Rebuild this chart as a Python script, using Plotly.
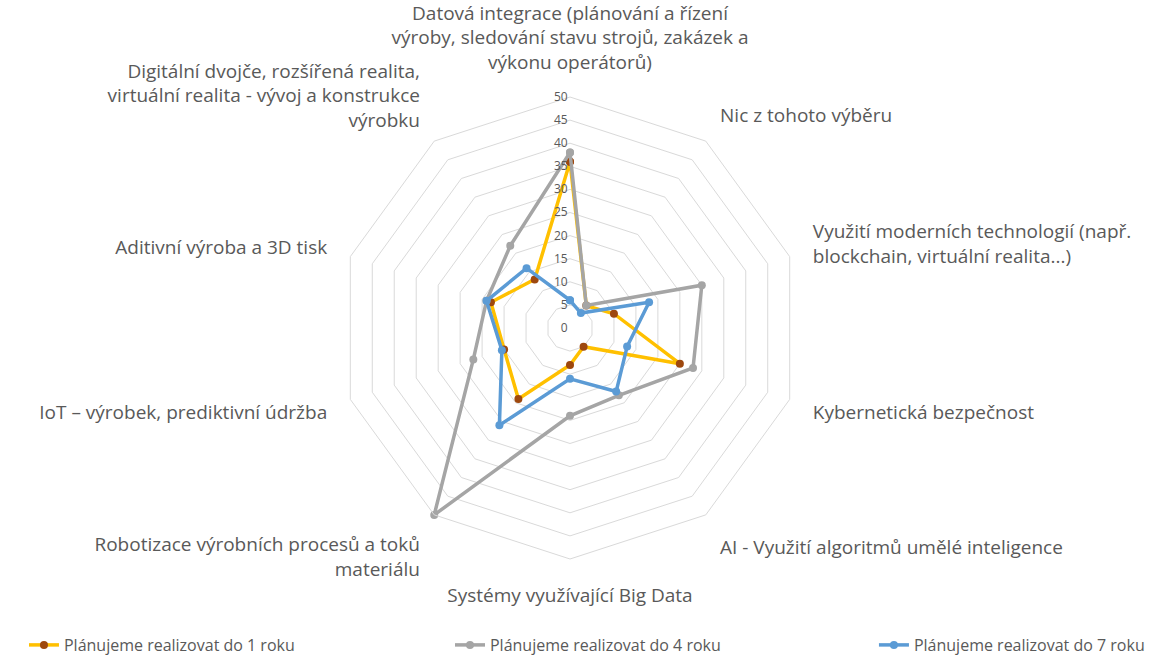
import plotly.graph_objects as go

#categories clockwise from the top, <br> where the original label wraps
categories = [
    'Datová integrace (plánování a řízení<br>výroby, sledování stavu strojů, zakázek a<br>výkonu operátorů)',
    'Nic z tohoto výběru',
    'Využití moderních technologií (např.<br>blockchain, virtuální realita...)',
    'Kybernetická bezpečnost',
    'AI - Využití algoritmů umělé inteligence',
    'Systémy využívající Big Data',
    'Robotizace výrobních procesů a toků<br>materiálu',
    'IoT – výrobek, prediktivní údržba',
    'Aditivní výroba a 3D tisk',
    'Digitální dvojče, rozšířená realita,<br>virtuální realita - vývoj a konstrukce<br>výrobku',
]

#values
do_1_roku = [36, 6, 10, 25, 5, 8, 19, 15, 18, 13]
do_4_roku = [38, 6, 30, 28, 18, 19, 50, 22, 19, 22]
do_7_roku = [6, 4, 18, 13, 17, 11, 26, 15.5, 19, 16]

series_names = ['Plánujeme realizovat do 1 roku', 'Plánujeme realizovat do 4 roku', 'Plánujeme realizovat do 7 roku']
radial_ticks = [0, 5, 10, 15, 20, 25, 30, 35, 40, 45, 50]

text_col = '#595959'
font_name = 'Open Sans'

fig = go.Figure()

#close the loop by repeating the first point
def closed(vals):
    return vals + vals[:1]

fig.add_trace(go.Scatterpolar(r=closed(do_1_roku), theta=closed(categories), name=series_names[0],
                              mode='lines+markers', line=dict(color='#FFC000', width=3.5),
                              marker=dict(color='#9E480E', size=8), legend='legend'))
fig.add_trace(go.Scatterpolar(r=closed(do_4_roku), theta=closed(categories), name=series_names[1],
                              mode='lines+markers', line=dict(color='#A5A5A5', width=3.5),
                              marker=dict(color='#A5A5A5', size=8), legend='legend2'))
fig.add_trace(go.Scatterpolar(r=closed(do_7_roku), theta=closed(categories), name=series_names[2],
                              mode='lines+markers', line=dict(color='#5B9BD5', width=3.5),
                              marker=dict(color='#5B9BD5', size=8), legend='legend3'))

cx, cy, rad = 570, 328, 231
W, H = 1158, 662

fig.update_layout(
    width=W, height=H,
    margin=dict(l=0, r=0, t=0, b=0, autoexpand=False),
    paper_bgcolor='white',
    showlegend=True,
    font=dict(family=font_name, color=text_col, size=13),
    polar=dict(
        domain=dict(x=[(cx - rad) / W, (cx + rad) / W], y=[(H - cy - rad) / H, (H - cy + rad) / H]),
        bgcolor='white',
        gridshape='linear',
        radialaxis=dict(range=[0, 50], tickvals=radial_ticks, angle=90, tickangle=90,
                        showline=False, ticks='', gridcolor='#D9D9D9', gridwidth=1,
                        ticksuffix='\u00a0\u00a0\u00a0',
                        tickfont=dict(size=12, color=text_col), side='counterclockwise'),
        angularaxis=dict(direction='clockwise', rotation=90, showgrid=False,
                         showline=True, linecolor='#D9D9D9', linewidth=1,
                         ticks='outside', ticklen=20, tickcolor='rgba(0,0,0,0)',
                         tickfont=dict(size=19, color=text_col)),
    ),
    legend=dict(x=0.0207, y=0.0, xanchor='left', yanchor='bottom', font=dict(size=16)),
    legend2=dict(x=0.3886, y=0.0, xanchor='left', yanchor='bottom', font=dict(size=16)),
    legend3=dict(x=0.7547, y=0.0, xanchor='left', yanchor='bottom', font=dict(size=16)),
)

#page body has a default 8px margin, drop it so the figure sits at the window corner
fig.write_html("out.html", config={'displayModeBar': False},
               post_script="document.body.style.margin='0';")
